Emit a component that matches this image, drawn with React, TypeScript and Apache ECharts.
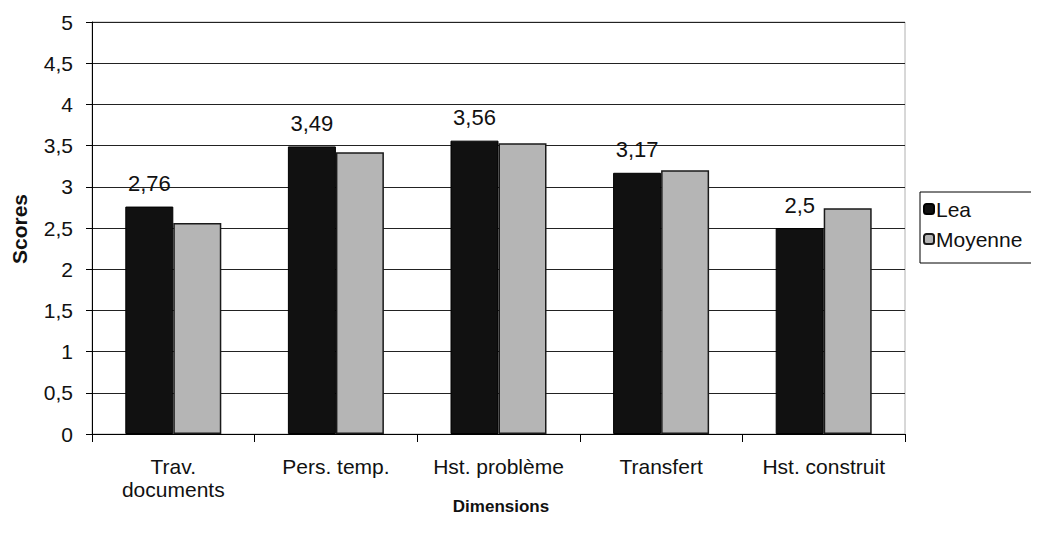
import React, { useEffect, useRef } from "react";
import * as echarts from "echarts";

const categories = ["Trav.\ndocuments", "Pers. temp.", "Hst. problème", "Transfert", "Hst. construit"];
const leaValues = [2.76, 3.49, 3.56, 3.17, 2.5];
const moyenneValues = [2.56, 3.42, 3.53, 3.2, 2.74];
const seriesNames = ["Lea", "Moyenne"];
const yTitle = "Scores";
const xTitle = "Dimensions";

const FONT = "'Liberation Sans', Arial, sans-serif";
const fmt = (v: number) => String(v).replace(".", ",");

export default function App() {
  const ref = useRef<HTMLDivElement>(null);
  useEffect(() => {
    if (!ref.current) return;
    const chart = echarts.init(ref.current, null, { renderer: "svg" });
    chart.setOption({
      animation: false,
      backgroundColor: "#ffffff",
      textStyle: { fontFamily: FONT },
      grid: {
        left: 92,
        right: 134,
        top: 22,
        bottom: 109,
        containLabel: false,
        show: true,
        borderColor: "#b0b0b0",
        borderWidth: 1,
      },
      legend: {
        orient: "vertical",
        left: 920,
        top: 192,
        width: 130,
        padding: [6, 20, 13, 3],
        itemWidth: 10,
        itemHeight: 10,
        itemGap: 8,
        borderColor: "#000",
        borderWidth: 1,
        textStyle: { fontFamily: FONT, fontSize: 21, color: "#111", padding: [0, 0, 0, -3], lineHeight: 22 },
        data: seriesNames,
      },
      xAxis: {
        type: "category",
        data: categories,
        axisLine: { show: true, lineStyle: { color: "#000", width: 1 } },
        axisTick: { show: true, length: 8, lineStyle: { color: "#000" } },
        axisLabel: {
          fontFamily: FONT,
          fontSize: 21,
          color: "#111",
          margin: 21,
          lineHeight: 23,
          interval: 0,
        },
        splitLine: { show: false },
      },
      yAxis: {
        type: "value",
        min: 0,
        max: 5,
        interval: 0.5,
        axisLine: { show: true, lineStyle: { color: "#000", width: 1 } },
        axisTick: { show: true, length: 6, lineStyle: { color: "#000" } },
        axisLabel: {
          fontFamily: FONT,
          fontSize: 21,
          color: "#111",
          margin: 19,
          formatter: (v: number) => fmt(v),
        },
        splitLine: { show: true, lineStyle: { color: "#222", width: 1 } },
      },
      graphic: [
        {
          type: "text",
          x: 19,
          y: 229,
          rotation: Math.PI / 2,
          style: {
            text: yTitle,
            fontFamily: FONT,
            fontSize: 21,
            fontWeight: "bold",
            fill: "#111",
            textAlign: "center",
            textVerticalAlign: "middle",
          },
        },
        {
          type: "text",
          x: 501,
          y: 506,
          style: {
            text: xTitle,
            fontFamily: FONT,
            fontSize: 17,
            fontWeight: "bold",
            fill: "#111",
            textAlign: "center",
            textVerticalAlign: "middle",
          },
        },
      ],
      series: [
        {
          name: seriesNames[0],
          type: "bar",
          data: leaValues,
          barWidth: 48,
          barGap: "0%",
          itemStyle: { color: "#111111", borderColor: "#000", borderWidth: 1 },
          label: {
            show: true,
            position: "top",
            distance: 12,
            fontFamily: FONT,
            fontSize: 22,
            color: "#111",
            formatter: (p: any) => fmt(p.value),
          },
        },
        {
          name: seriesNames[1],
          type: "bar",
          data: moyenneValues,
          barWidth: 48,
          barGap: "0%",
          itemStyle: { color: "#b5b5b5", borderColor: "#1a1a1a", borderWidth: 1.5 },
        },
      ],
    });
    return () => chart.dispose();
  }, []);
  return <div ref={ref} style={{ width: 1039, height: 543, margin: -8 }} />;
}
